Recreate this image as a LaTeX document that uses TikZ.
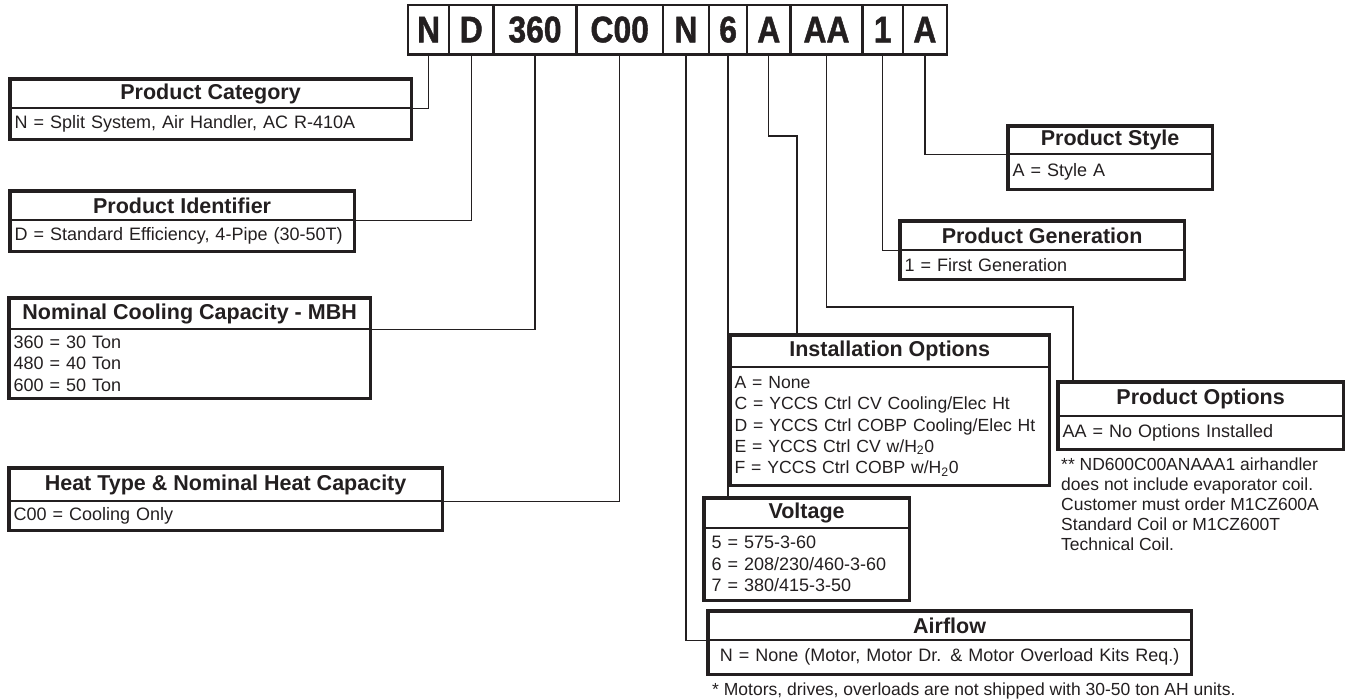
\documentclass[tikz,border=0pt]{standalone}
\usepackage{fontspec}
\setmainfont{Liberation Sans}
\newfontfamily\barfont{Liberation Sans}[FakeStretch=0.86, FakeBold=1.2]
\usepackage{tikz}
\usetikzlibrary{positioning}
\definecolor{ink}{RGB}{35,31,32}

\begin{document}
\begin{tikzpicture}[
            x=1pt, y=-1pt,
            cell/.style={rectangle, draw=ink, line width=1.2pt, minimum height=48, inner sep=0pt, text=ink, font=\barfont\bfseries\fontsize{37}{40}\selectfont},
            hdr/.style={rectangle, draw=ink, line width=1.2pt, anchor=north west, align=center, inner sep=0pt, text=ink, font=\bfseries\fontsize{21.5}{24}\selectfont},
            body/.style={rectangle, draw=ink, line width=1.2pt, anchor=north west, align=left, inner xsep=4pt, inner ysep=0pt, text=ink, font=\fontsize{18}{21.5}\selectfont},
            note/.style={align=left, inner sep=0pt, text=ink, font=\fontsize{17.5}{20}\selectfont},
            frame/.style={draw=ink, line width=3.2pt},
            link/.style={draw=ink, line width=1.3pt}
        ]
            \useasboundingbox (0,0) rectangle (1349,700);

            % model number bar
            \node[cell, minimum width=40, anchor=north west] (bN) at (408,5) {N};
            \node[cell, minimum width=43, right=0pt of bN] (bD) {D};
            \node[cell, minimum width=82, right=0pt of bD] (b360) {360};
            \node[cell, minimum width=85, right=0pt of b360] (bC00) {C00};
            \node[cell, minimum width=45, right=0pt of bC00] (bN2) {N};
            \node[cell, minimum width=37, right=0pt of bN2] (b6) {6};
            \node[cell, minimum width=42, right=0pt of b6] (bA) {A};
            \node[cell, minimum width=71, right=0pt of bA] (bAA) {AA};
            \node[cell, minimum width=39, right=0pt of bAA] (b1) {1};
            \node[cell, minimum width=43, right=0pt of b1] (bA2) {A};
            \draw[frame, line width=2.8pt] (bN.north west) rectangle (bA2.south east);

            % left column
            \node[hdr, minimum width=400, minimum height=28] (cat) at (10,79) {Product Category};
            \node[body, minimum width=400, minimum height=30, text width=392pt] (catb) at (cat.south west) {N = Split System, Air Handler, AC R-410A};
            \draw[frame] (cat.north west) rectangle (catb.south east);

            \node[hdr, minimum width=343, minimum height=28] (ident) at (10,191) {Product Identifier};
            \node[body, minimum width=343, minimum height=30, text width=335pt] (identb) at (ident.south west) {D = Standard Efficiency, 4-Pipe (30-50T)};
            \draw[frame] (ident.north west) rectangle (identb.south east);

            \node[hdr, minimum width=360, minimum height=30] (nom) at (9,298) {Nominal Cooling Capacity - MBH};
            \node[body, minimum width=360, minimum height=68, text width=352pt] (nomb) at (nom.south west) {360 = 30 Ton\\480 = 40 Ton\\600 = 50 Ton};
            \draw[frame] (nom.north west) rectangle (nomb.south east);

            \node[hdr, minimum width=432, minimum height=32] (heat) at (9,468) {Heat Type \& Nominal Heat Capacity};
            \node[body, minimum width=432, minimum height=28, text width=424pt] (heatb) at (heat.south west) {C00 = Cooling Only};
            \draw[frame] (heat.north west) rectangle (heatb.south east);

            % middle and right
            \node[hdr, minimum width=203, minimum height=27] (style) at (1008,126) {Product Style};
            \node[body, minimum width=203, minimum height=34, text width=195pt] (styleb) at (style.south west) {A = Style A};
            \draw[frame] (style.north west) rectangle (styleb.south east);

            \node[hdr, minimum width=283, minimum height=28] (gen) at (900,221) {Product Generation};
            \node[body, minimum width=283, minimum height=28, text width=275pt] (genb) at (gen.south west) {1 = First Generation};
            \draw[frame] (gen.north west) rectangle (genb.south east);

            \node[hdr, minimum width=318, minimum height=31] (inst) at (730,335) {Installation Options};
            \node[body, minimum width=318, minimum height=117, inner xsep=4pt, text width=310pt, font=\fontsize{17.6}{21.3}\selectfont] (instb) at (inst.south west) {A = None\\C = YCCS Ctrl CV Cooling/Elec Ht\\D = YCCS Ctrl COBP Cooling/Elec Ht\\E = YCCS Ctrl CV w/H\textsubscript{2}0\\F = YCCS Ctrl COBP w/H\textsubscript{2}0};
            \draw[frame] (inst.north west) rectangle (instb.south east);

            \node[hdr, minimum width=284, minimum height=33] (opt) at (1058,382) {Product Options};
            \node[body, minimum width=284, minimum height=32, text width=276pt] (optb) at (opt.south west) {AA = No Options Installed};
            \draw[frame] (opt.north west) rectangle (optb.south east);
            \node[note, anchor=north west, below right=8pt and 3pt of optb.south west] (optnote) {** ND600C00ANAAA1 airhandler\\does not include evaporator coil.\\Customer must order M1CZ600A\\Standard Coil or M1CZ600T\\Technical Coil.};

            \node[hdr, minimum width=204, minimum height=29] (volt) at (704,498) {Voltage};
            \node[body, minimum width=204, minimum height=71, inner xsep=7pt, text width=190pt] (voltb) at (volt.south west) {5 = 575-3-60\\6 = 208/230/460-3-60\\7 = 380/415-3-50};
            \draw[frame] (volt.north west) rectangle (voltb.south east);

            \node[hdr, minimum width=482, minimum height=28] (air) at (708,611) {Airflow};
            \node[body, minimum width=482, minimum height=33, align=center, text width=474pt] (airb) at (air.south west) {N = None (Motor, Motor Dr. \& Motor Overload Kits Req.)};
            \draw[frame] (air.north west) rectangle (airb.south east);
            \node[note, below right=8pt and 4pt of airb.south west] (airnote) {* Motors, drives, overloads are not shipped with 30-50 ton AH units.};

            % connectors
            \coordinate (kInst) at (797,136);
            \coordinate (kOpt) at (1073,307);
            \draw[link] (bN.south) |- (cat.south east);
            \draw[link] (bD.south) |- (ident.south east);
            \draw[link] (b360.south) |- (nom.south east);
            \draw[link] (bC00.south) |- (heat.south east);
            \draw[link] (bN2.south) |- (air.south west);
            \draw[link] (b6.south) -- (b6.south |- volt.north);
            \draw[link] (bA.south) |- (kInst) -- (kInst |- inst.north);
            \draw[link] (bAA.south) |- (kOpt) -- (kOpt |- opt.north);
            \draw[link] (b1.south) |- (gen.south west);
            \draw[link] (bA2.south) |- (style.south west);
        \end{tikzpicture}
\end{document}
